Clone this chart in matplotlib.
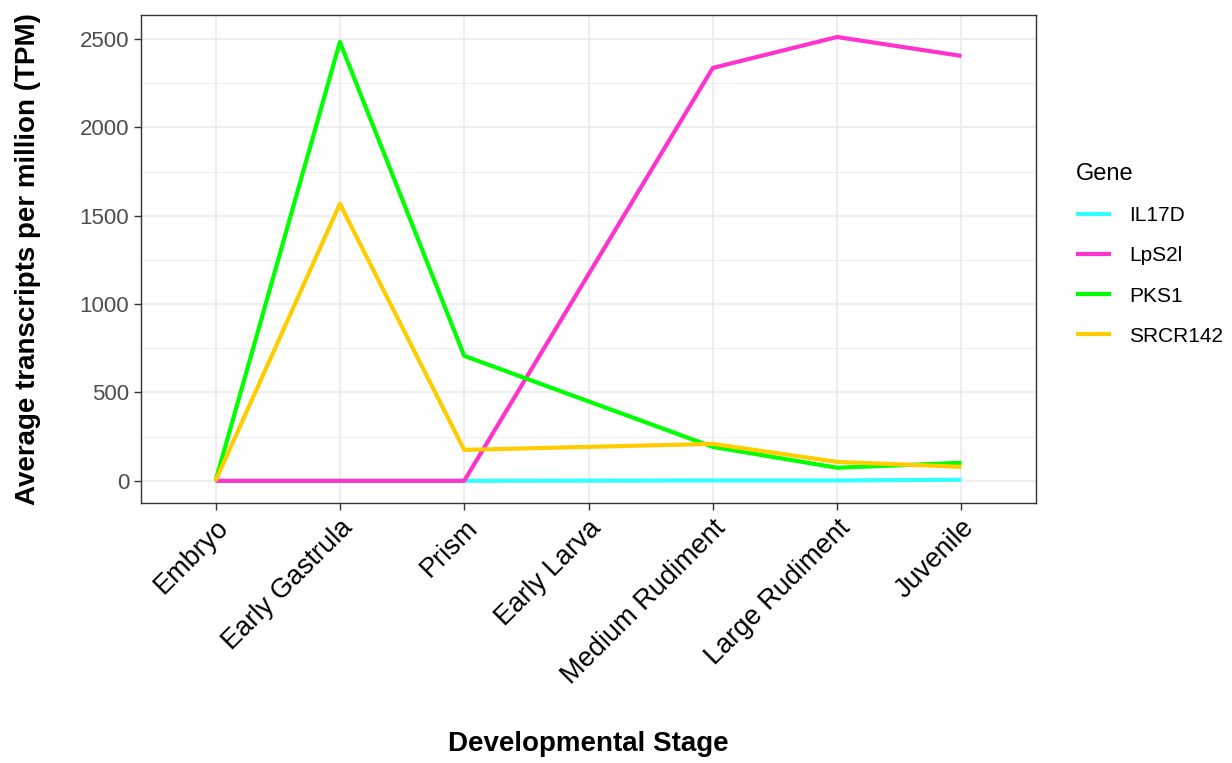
import matplotlib.pyplot as plt
import numpy as np

plt.rcParams['font.family'] = ['Liberation Sans', 'DejaVu Sans']

stages = ['Embryo', 'Early Gastrula', 'Prism', 'Early Larva',
          'Medium Rudiment', 'Large Rudiment', 'Juvenile']

# no samples at Early Larva -> None, line is drawn straight across
il17d = [0, 0, 0, None, 2, 2, 6]
lps2l = [0, 0, 0, None, 2336, 2511, 2404]
pks1 = [0, 2483, 707, None, 192, 74, 102]
srcr142 = [0, 1567, 175, None, 209, 107, 79]

genes = ['IL17D', 'LpS2l', 'PKS1', 'SRCR142']
series = [il17d, lps2l, pks1, srcr142]
colors = ['#33FFFF', '#FF33CC', '#00FF00', '#FFCC00']

fig = plt.figure(figsize=(12.32, 7.63), dpi=100)
ax = fig.add_axes([141 / 1232, 1 - 503 / 763, (1036 - 141) / 1232, (503 - 15) / 763])

x_all = np.arange(1, len(stages) + 1)
for name, vals, col in zip(genes, series, colors):
    xs = [x for x, v in zip(x_all, vals) if v is not None]
    ys = [v for v in vals if v is not None]
    ax.plot(xs, ys, color=col, lw=3, label=name, solid_capstyle='butt')

ax.set_xlim(0.4, len(stages) + 0.6)
ax.set_ylim(-125.5, 2635.5)
ax.set_xticks(x_all)
ax.set_xticklabels(stages, rotation=45, ha='right', rotation_mode='anchor',
                   fontsize=19.5, color='black')
ax.set_yticks([0, 500, 1000, 1500, 2000, 2500])
ax.set_yticks([250, 750, 1250, 1750, 2250], minor=True)
ax.tick_params(axis='y', labelsize=16, labelcolor='#4D4D4D')
ax.tick_params(axis='both', which='major', color='#333333', length=5, width=1)
ax.tick_params(axis='y', which='minor', length=0)
ax.grid(True, which='major', color='#EBEBEB', lw=1.2)
ax.grid(True, which='minor', axis='y', color='#EBEBEB', lw=0.6)
ax.set_axisbelow(True)
for s in ax.spines.values():
    s.set_color('#333333')
    s.set_linewidth(1)

ax.set_xlabel('Developmental Stage', fontsize=20, fontweight='bold', labelpad=30)
ax.set_ylabel('Average transcripts per million (TPM)', fontsize=20, fontweight='bold', labelpad=28)

leg = ax.legend(title='Gene', loc='upper left', bbox_to_anchor=(1057 / 1232, 1 - 144 / 763),
                bbox_transform=fig.transFigure, frameon=False, fontsize=15,
                title_fontsize=17, handlelength=1.7, labelspacing=1.02, handletextpad=0.85)
leg._legend_box.align = 'left'

fig.savefig('out.png', dpi=100)
